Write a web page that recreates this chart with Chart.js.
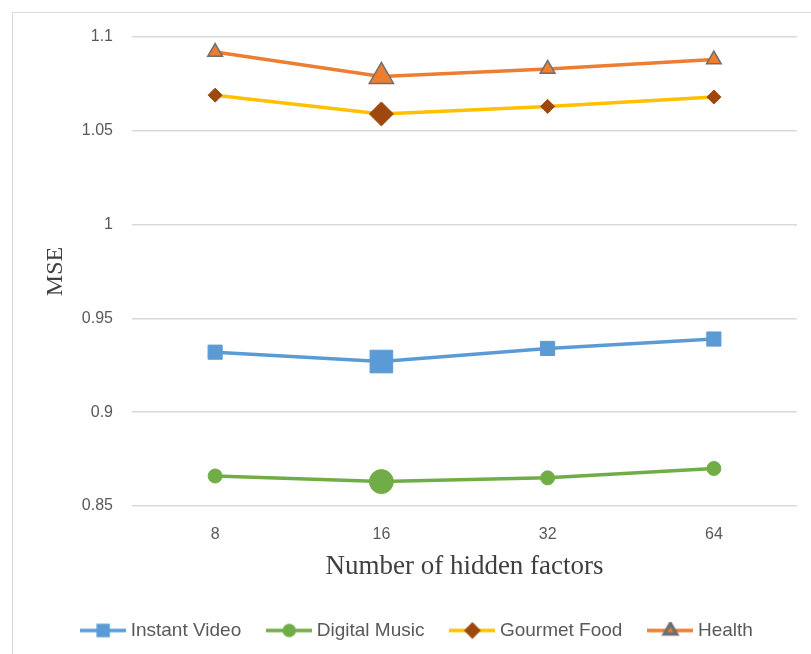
<!DOCTYPE html>
<html>
<head>
<meta charset="utf-8">
<script src="https://cdn.jsdelivr.net/npm/chart.js@4.4.1/dist/chart.umd.min.js"></script>
<style>
  html, body { margin: 0; padding: 0; background: #fff; overflow: hidden; }
  #frame { position: absolute; left: 12px; top: 12px; width: 820px; height: 700px; border: 1.5px solid #d9d9d9; }
  #chart { position: absolute; left: 0; top: 0; }
</style>
</head>
<body>
<div id="frame"></div>
<canvas id="chart" width="811" height="654"></canvas>
<script>
const hiddenFactors = ['8', '16', '32', '64'];
const yTicks = [0.85, 0.9, 0.95, 1, 1.05, 1.1];

const instantVideo = [0.932, 0.927, 0.934, 0.939];
const digitalMusic = [0.866, 0.863, 0.865, 0.870];
const gourmetFood = [1.069, 1.059, 1.063, 1.068];
const health = [1.092, 1.079, 1.083, 1.088];

const sansFamily = "'Liberation Sans Narrow', 'Arial Narrow', 'Liberation Sans', sans-serif";
const serifFamily = "'Liberation Serif', 'Times New Roman', serif";
const tickFont = { family: sansFamily, size: 16 };
const legendFont = { family: sansFamily, size: 19 };

// small canvas with line + marker, used as legend symbol
function legendKey(ds) {
  let c = document.createElement('canvas');
  c.width = 46;
  c.height = 18;
  let ctx = c.getContext('2d');
  ctx.strokeStyle = ds.borderColor;
  ctx.lineWidth = 3.5;
  ctx.beginPath();
  ctx.moveTo(0, 9);
  ctx.lineTo(46, 9);
  ctx.stroke();
  ctx.fillStyle = ds.pointBackgroundColor;
  ctx.strokeStyle = ds.pointBorderColor;
  Chart.helpers.drawPoint(ctx, {
    pointStyle: ds.pointStyle,
    radius: ds.legendRadius,
    rotation: 0,
    borderWidth: ds.pointBorderWidth
  }, 23, 9);
  return c;
}

let ctx = document.getElementById('chart').getContext('2d');

let myChart = new Chart(ctx, {
  type: 'line',
  data: {
    labels: hiddenFactors,
    datasets: [{
        label: 'Instant Video',
        data: instantVideo,
        borderColor: '#5b9bd5',
        borderWidth: 3.5,
        pointStyle: 'rect',
        pointBackgroundColor: '#5b9bd5',
        pointBorderColor: '#5b9bd5',
        pointBorderWidth: 1,
        pointRadius: [10, 16, 10, 10],
        legendRadius: 7,
      },
      {
        label: 'Digital Music',
        data: digitalMusic,
        borderColor: '#70ad47',
        borderWidth: 3.5,
        pointStyle: 'circle',
        pointBackgroundColor: '#70ad47',
        pointBorderColor: '#70ad47',
        pointBorderWidth: 1,
        pointRadius: [7, 12, 7, 7],
        legendRadius: 5,
      },
      {
        label: 'Gourmet Food',
        data: gourmetFood,
        borderColor: '#ffc000',
        borderWidth: 3.5,
        pointStyle: 'rectRot',
        pointBackgroundColor: '#9e480e',
        pointBorderColor: '#9e480e',
        pointBorderWidth: 1,
        pointRadius: [7, 12, 7, 7],
        legendRadius: 6,
      },
      {
        label: 'Health',
        data: health,
        borderColor: '#ed7d31',
        borderWidth: 3.5,
        pointStyle: 'triangle',
        pointBackgroundColor: '#ed7d31',
        pointBorderColor: '#6f6f6f',
        pointBorderWidth: 1.5,
        pointRadius: [8.5, 14, 8.5, 8.5],
        legendRadius: 7,
      }
    ]
  },
  options: {
    responsive: false,
    animation: false,
    devicePixelRatio: 1,
    layout: {
      padding: { left: 41, right: 14, top: 37, bottom: 4 }
    },
    elements: {
      line: { tension: 0 },
      point: { hoverRadius: 8 }
    },
    plugins: {
      tooltip: { enabled: false },
      legend: {
        position: 'bottom',
        labels: {
          usePointStyle: true,
          pointStyleWidth: 36,
          padding: 30,
          color: '#595959',
          font: legendFont,
          generateLabels: (chart) => chart.data.datasets.map((ds, i) => ({
            text: ds.label,
            fontColor: '#595959',
            pointStyle: legendKey(ds),
            lineWidth: 0,
            hidden: false,
            datasetIndex: i
          }))
        }
      }
    },
    scales: {
      x: {
        offset: true,
        grid: { display: false, drawTicks: false },
        border: { display: false },
        ticks: { color: '#595959', font: tickFont, padding: 19 },
        title: {
          display: true,
          text: 'Number of hidden factors',
          color: '#404040',
          font: { family: serifFamily, size: 27 },
          padding: { top: 0, bottom: 8 }
        },
        afterFit: (s) => { s.height = 85; }
      },
      y: {
        min: 0.85,
        max: 1.1,
        grid: { color: '#d9d9d9', lineWidth: 1.5, drawTicks: false },
        border: { display: false },
        afterBuildTicks: (s) => { s.ticks = yTicks.map(v => ({ value: v })); },
        ticks: {
          color: '#595959',
          font: tickFont,
          padding: 19,
          callback: (v) => String(+v.toFixed(2))
        },
        title: {
          display: true,
          text: 'MSE',
          color: '#404040',
          font: { family: serifFamily, size: 24 },
          padding: { top: 0, bottom: 0 }
        },
        afterFit: (s) => { s.width = 91; }
      }
    }
  }
});
</script>
</body>
</html>
